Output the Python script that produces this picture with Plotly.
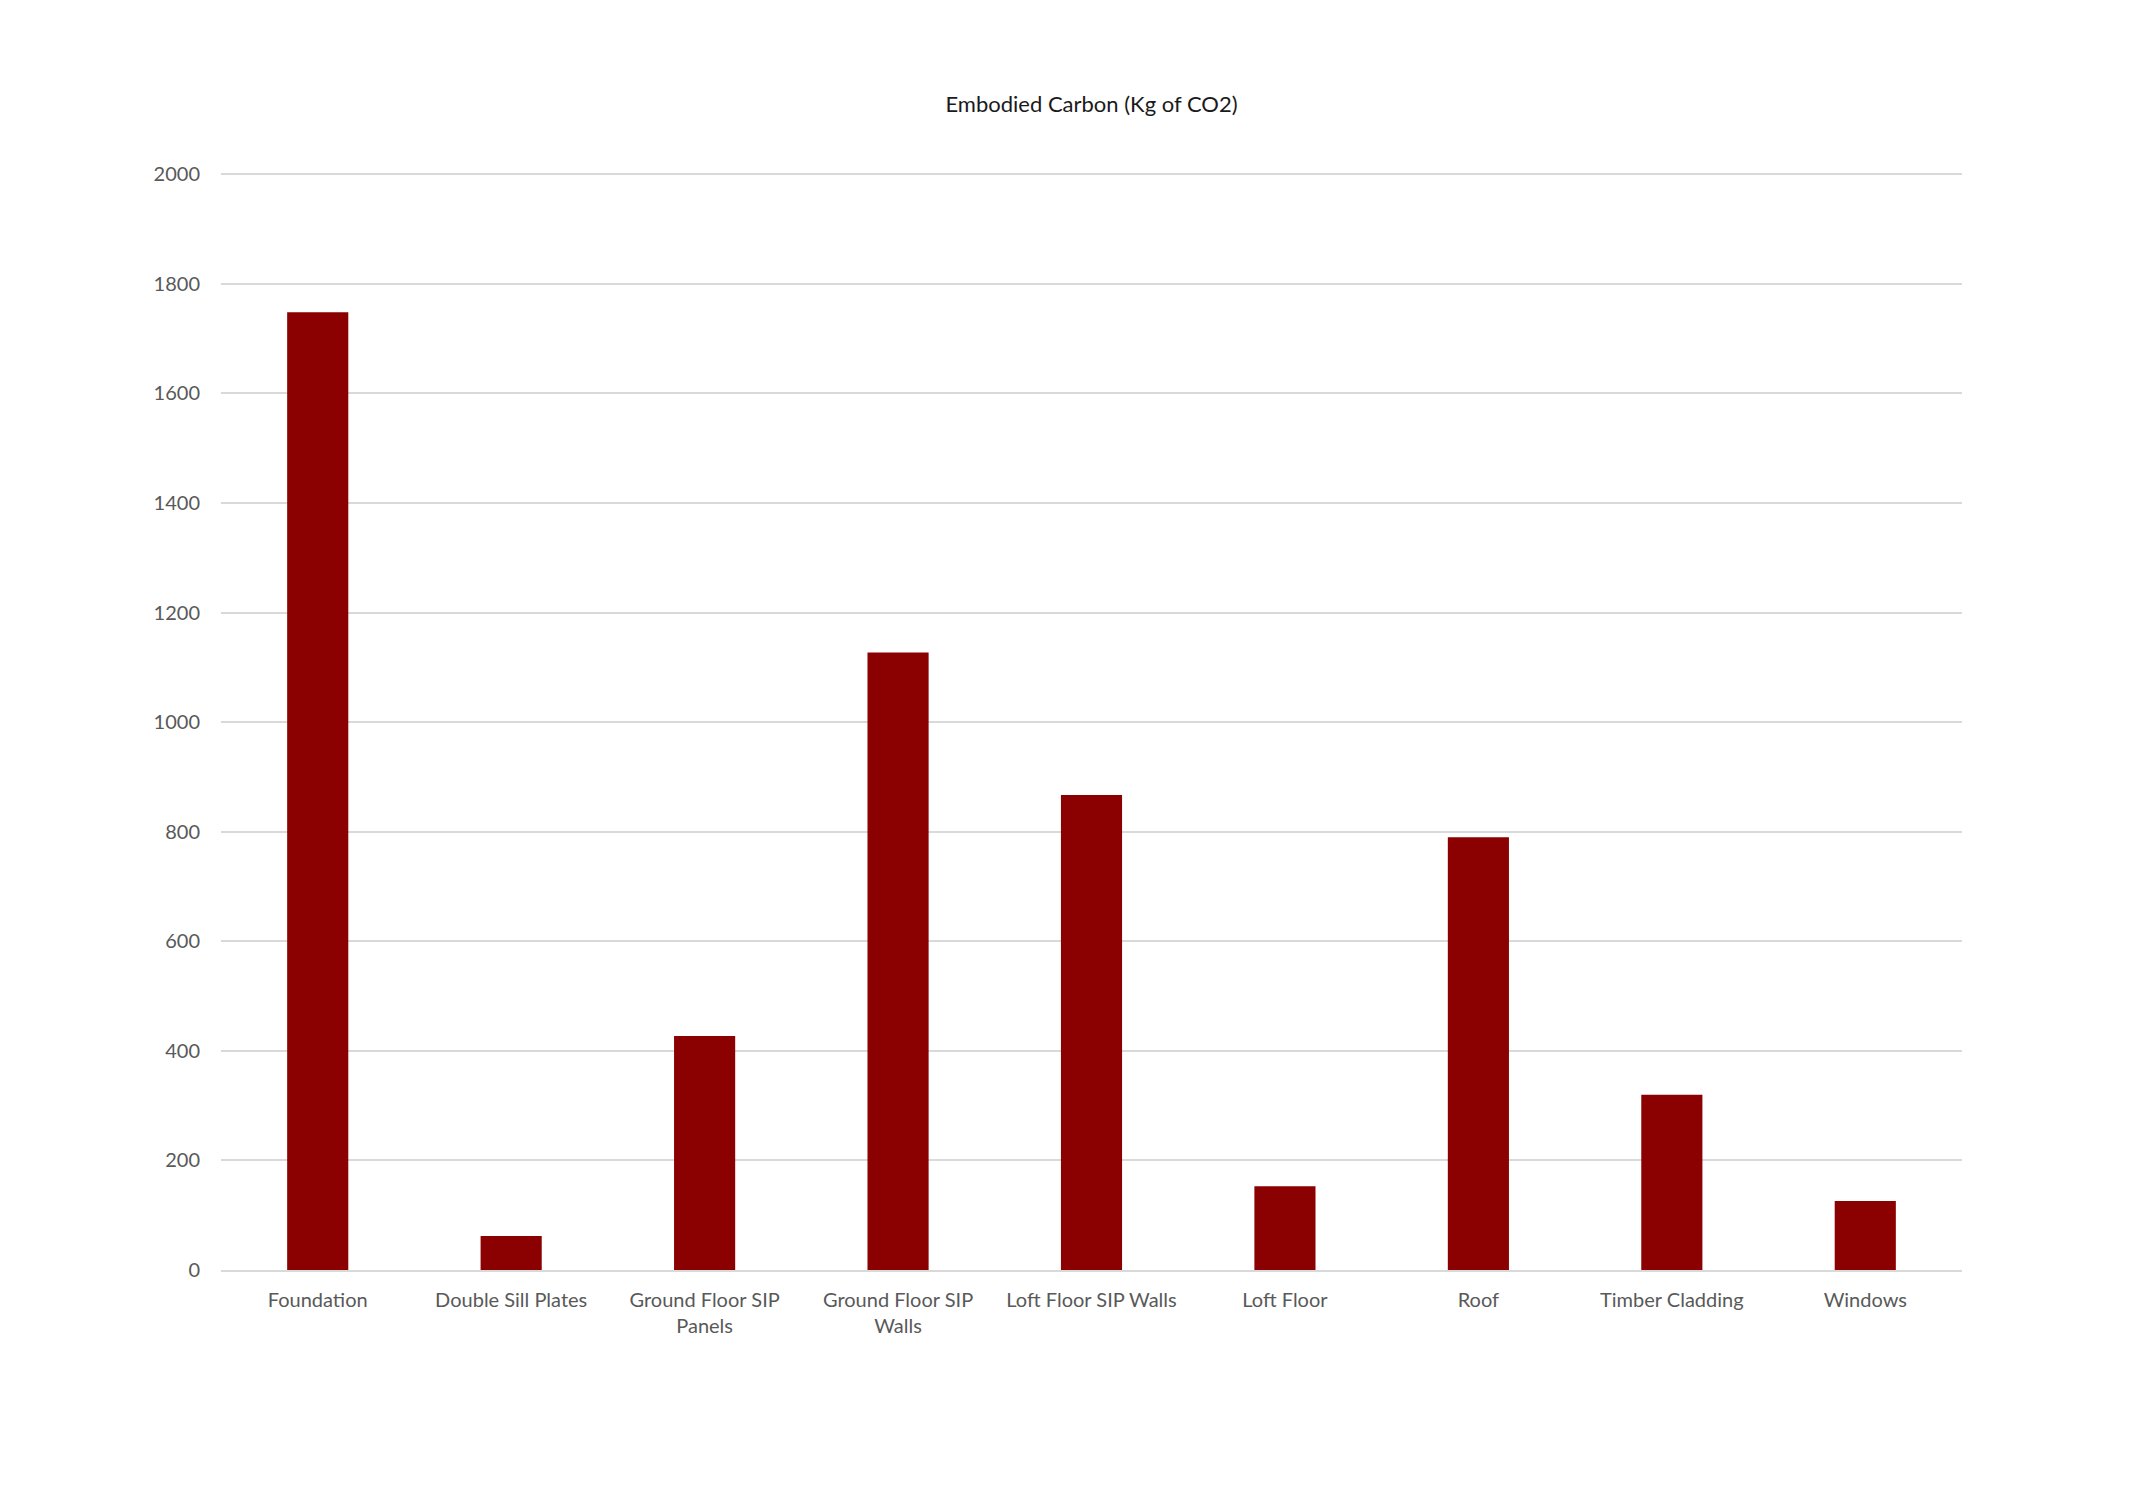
import plotly.graph_objects as go

# Embodied carbon per building element (kg CO2)
categories = [
    "Foundation",
    "Double Sill Plates",
    "Ground Floor SIP<br>Panels",
    "Ground Floor SIP<br>Walls",
    "Loft Floor SIP Walls",
    "Loft Floor",
    "Roof",
    "Timber Cladding",
    "Windows",
]
carbon_kg = [1748, 62, 427, 1127, 867, 153, 790, 320, 126]
y_ticks = [0, 200, 400, 600, 800, 1000, 1200, 1400, 1600, 1800, 2000]

FONT = "Lato, 'Open Sans', sans-serif"

fig = go.Figure(
    go.Bar(
        x=categories,
        y=carbon_kg,
        marker=dict(color="#8b0000", line=dict(width=0)),
        hoverinfo="x+y",
    )
)

fig.update_layout(
    width=2130,
    height=1506,
    paper_bgcolor="white",
    plot_bgcolor="white",
    margin=dict(l=221, r=168, t=172, b=236),
    bargap=0.684,
    showlegend=False,
    title=dict(
        text="Embodied Carbon (Kg of CO2)",
        x=0.5,
        xref="paper",
        xanchor="center",
        y=1 - 104 / 1506,
        yanchor="middle",
        font=dict(family=FONT, size=22, color="#1a1a1a"),
    ),
)

fig.update_xaxes(
    showgrid=False,
    showline=True,
    linecolor="#d9d9d9",
    linewidth=2,
    ticks="",
    tickfont=dict(family=FONT, size=20, color="#595959"),
    ticklabelstandoff=11,
)

fig.update_yaxes(
    range=[0, 2004],
    tickvals=y_ticks,
    showgrid=True,
    gridcolor="#d9d9d9",
    gridwidth=2,
    zeroline=False,
    showline=False,
    ticks="",
    tickfont=dict(family=FONT, size=20, color="#595959"),
    ticklabelstandoff=20,
)

fig.write_html("out.html")
